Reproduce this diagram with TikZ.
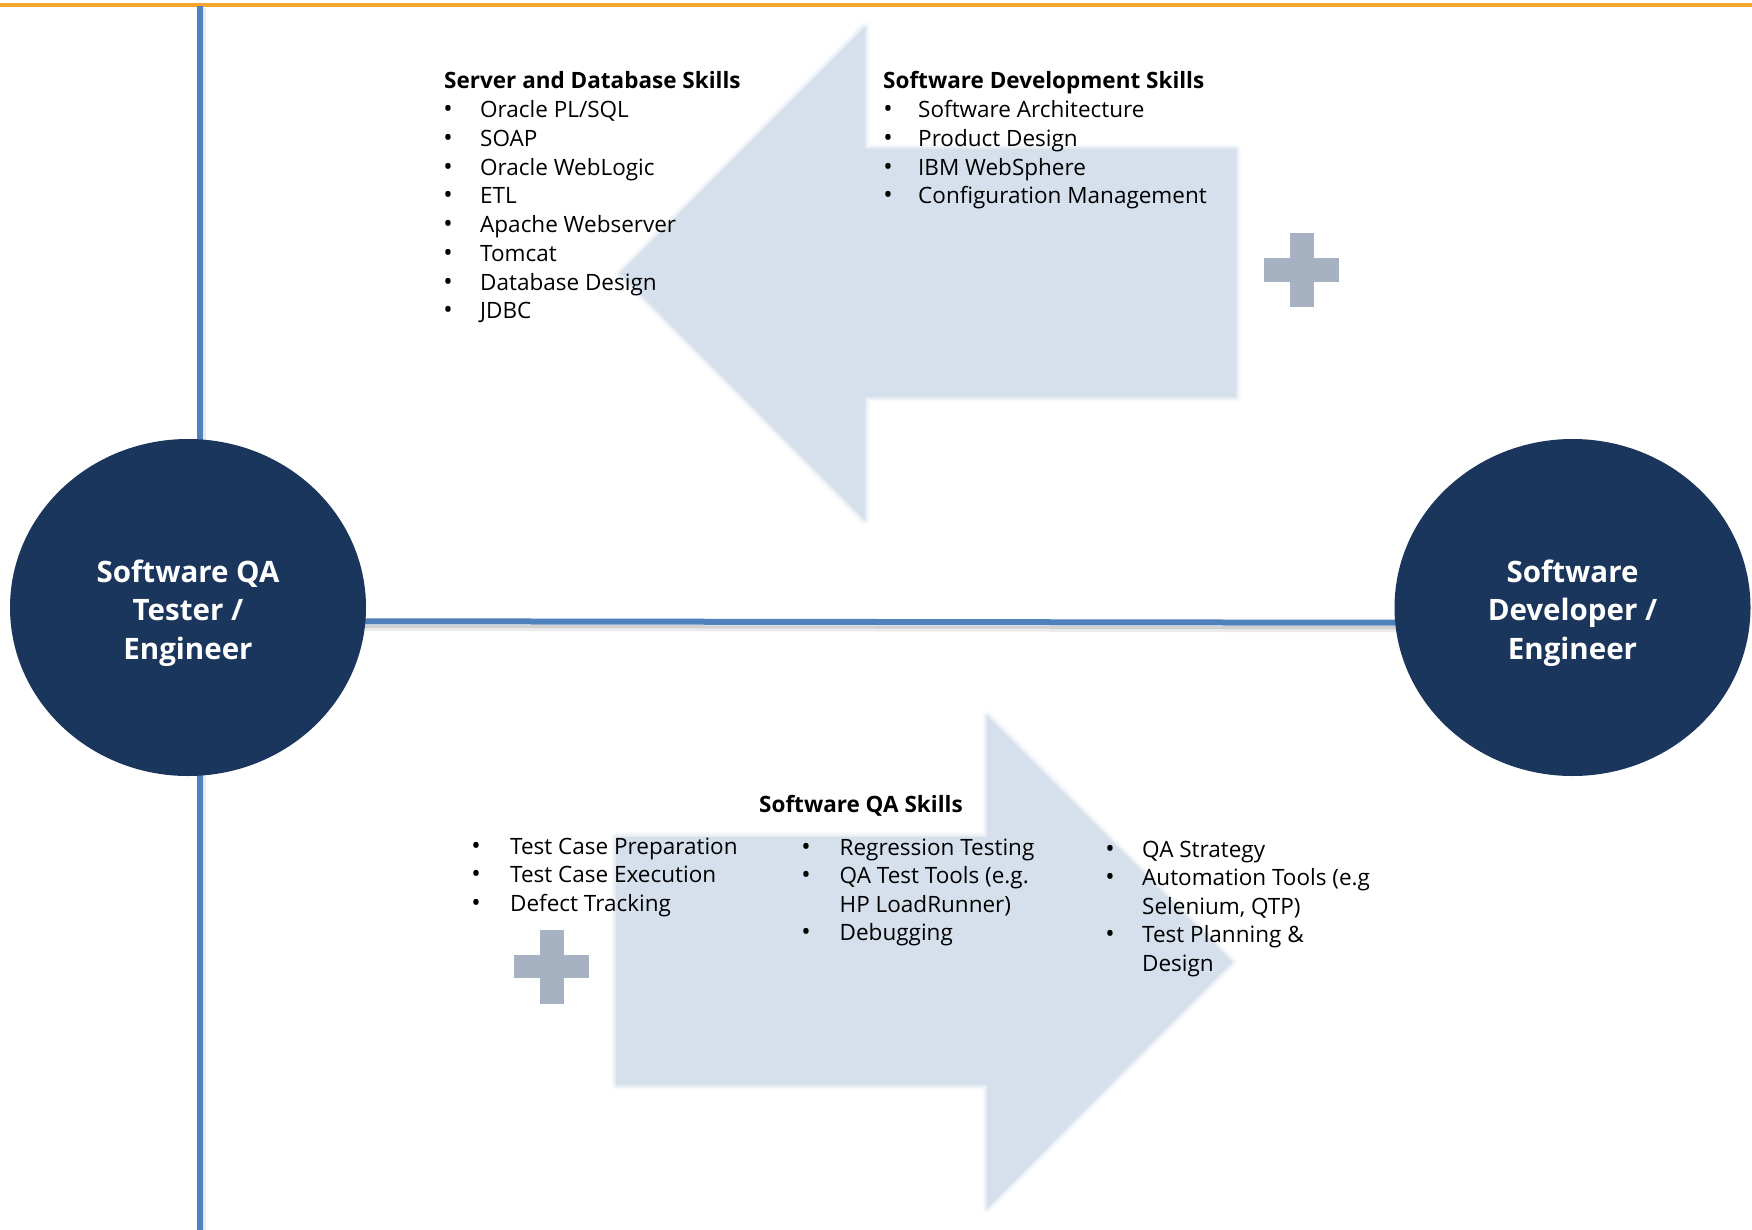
\documentclass[tikz,border=0pt]{standalone}
\usepackage{fontspec}
\setmainfont{Open Sans}
\usetikzlibrary{shapes.geometric,backgrounds,calc}
\definecolor{navy}{HTML}{1B365D}
\definecolor{arrowc}{HTML}{D6E0EC}
\definecolor{plusc}{HTML}{A6B1C1}
\definecolor{lineblue}{HTML}{4F81BD}
\definecolor{orangec}{HTML}{F5A52A}
\begin{document}
\begin{tikzpicture}[x=1pt,y=-1pt,
  txt/.style={inner sep=0pt,font=\fontsize{22.5}{27}\selectfont},
  item/.style={txt,anchor=base west},
  bul/.style={txt,anchor=base,font=\fontsize{25}{27}\selectfont},
  head/.style={txt,anchor=base west,font=\fontsize{22.5}{27}\selectfont\bfseries},
  role/.style={ellipse,fill=navy,minimum width=356pt,minimum height=337pt,inner sep=0pt},
  roletxt/.style={inner sep=0pt,text=white,align=center,font=\fontsize{29.5}{38.5}\selectfont\bfseries},
  bigarrow/.style={fill=arrowc},
  plus/.style={fill=plusc},
  axis/.style={draw=lineblue,line width=6pt},
  shade/.style={draw=black,line width=3pt}
]
\useasboundingbox (0,0) rectangle (1752,1230);

\node[role] (qa) at (188,607.5) {};
\node[role] (dev) at (1572.5,607.5) {};
\node[roletxt] (qal) at ($(qa.center)+(0,5.5)$) {Software QA\\Tester /\\Engineer};
\node[roletxt] (devl) at ($(dev.center)+(0,5.5)$) {Software\\Developer /\\Engineer};

\coordinate (vtop) at (200,6);
\coordinate (vbot) at (200,1230);
\coordinate (otl) at (0,5);
\coordinate (otr) at (1752,5);

\begin{scope}[on background layer]
  \fill[white] (0,0) rectangle (1752,1230);
  % arrows
  \foreach \w/\o in {10/0.15,6/0.25,3/0.4}{
    \draw[arrowc,line width=\w pt,opacity=\o,line join=round]
      (1236,149) -- (865,149) -- (865,27) -- (620,273.5) -- (865,520) -- (865,397) -- (1236,397) -- cycle;
    \draw[arrowc,line width=\w pt,opacity=\o,line join=round]
      (616,837) -- (987,837) -- (987,716) -- (1232,962) -- (987,1208) -- (987,1085) -- (616,1085) -- cycle;
  }
  \fill[bigarrow] (1236,149) -- (865,149) -- (865,27) -- (620,273.5) -- (865,520) -- (865,397) -- (1236,397) -- cycle;
  \fill[bigarrow] (616,837) -- (987,837) -- (987,716) -- (1232,962) -- (987,1208) -- (987,1085) -- (616,1085) -- cycle;
  % plus signs
  \fill[plus] (1290,233) rectangle (1314,307);
  \fill[plus] (1264,258) rectangle (1339,282);
  \fill[plus] (540,930) rectangle (564,1004);
  \fill[plus] (514,955) rectangle (589,978);
  % lines
  \draw[orangec,line width=4pt] (otl) -- (otr);
  \draw[shade,opacity=0.08] ($(vtop)+(4,2)$) -- ($(vbot)+(4,0)$);
  \draw[axis] (vtop) -- (vbot);
  \draw[shade,opacity=0.18] ($(qa.center)+(0,18.5)$) -- ($(dev.center)+(0,20.5)$);
  \draw[shade,opacity=0.08] ($(qa.center)+(0,21.5)$) -- ($(dev.center)+(0,23.5)$);
  \draw[axis] ($(qa.center)+(0,13.5)$) -- ($(dev.center)+(0,15.5)$);
\end{scope}

% Server and Database Skills
\node[head] (sdbh) at (444,89) {Server and Database Skills};
\foreach \t [count=\i] in {Oracle PL/SQL,SOAP,Oracle WebLogic,ETL,Apache Webserver,Tomcat,Database Design,JDBC}{
  \node[bul] (sdbb\i) at (448,89+28.75*\i) {•};
  \node[item] (sdbt\i) at (480,89+28.75*\i) {\t};
}

% Software Development Skills
\node[head] (sdh) at (883,89) {Software Development Skills};
\foreach \t [count=\i] in {Software Architecture,Product Design,IBM WebSphere,Configuration Management}{
  \node[bul] (sdb\i) at (888,89+28.75*\i) {•};
  \node[item] (sdt\i) at (918,89+28.75*\i) {\t};
}

% Software QA Skills
\node[head] (qah) at (759,812) {Software QA Skills};
\foreach \t [count=\i] in {Test Case Preparation,Test Case Execution,Defect Tracking}{
  \node[bul] (qab\i) at (476,825.5+28.5*\i) {•};
  \node[item] (qat\i) at (510,825.5+28.5*\i) {\t};
}
\node[bul] (qbb1) at (806,855) {•};
\node[item] (qbt1) at (839.5,855) {Regression Testing};
\node[bul] (qbb2) at (806,883.5) {•};
\node[item] (qbt2) at (839.5,883.5) {QA Test Tools (e.g.};
\node[item] (qbt3) at (839.5,912) {HP LoadRunner)};
\node[bul] (qbb4) at (806,940.5) {•};
\node[item] (qbt4) at (839.5,940.5) {Debugging};

\node[bul] (qcb1) at (1110,857) {•};
\node[item] (qct1) at (1142,857) {QA Strategy};
\node[bul] (qcb2) at (1110,885.5) {•};
\node[item] (qct2) at (1142,885.5) {Automation Tools (e.g};
\node[item] (qct3) at (1142,914) {Selenium, QTP)};
\node[bul] (qcb4) at (1110,942.5) {•};
\node[item] (qct4) at (1142,942.5) {Test Planning \&};
\node[item] (qct5) at (1142,971) {Design};
\end{tikzpicture}
\end{document}
